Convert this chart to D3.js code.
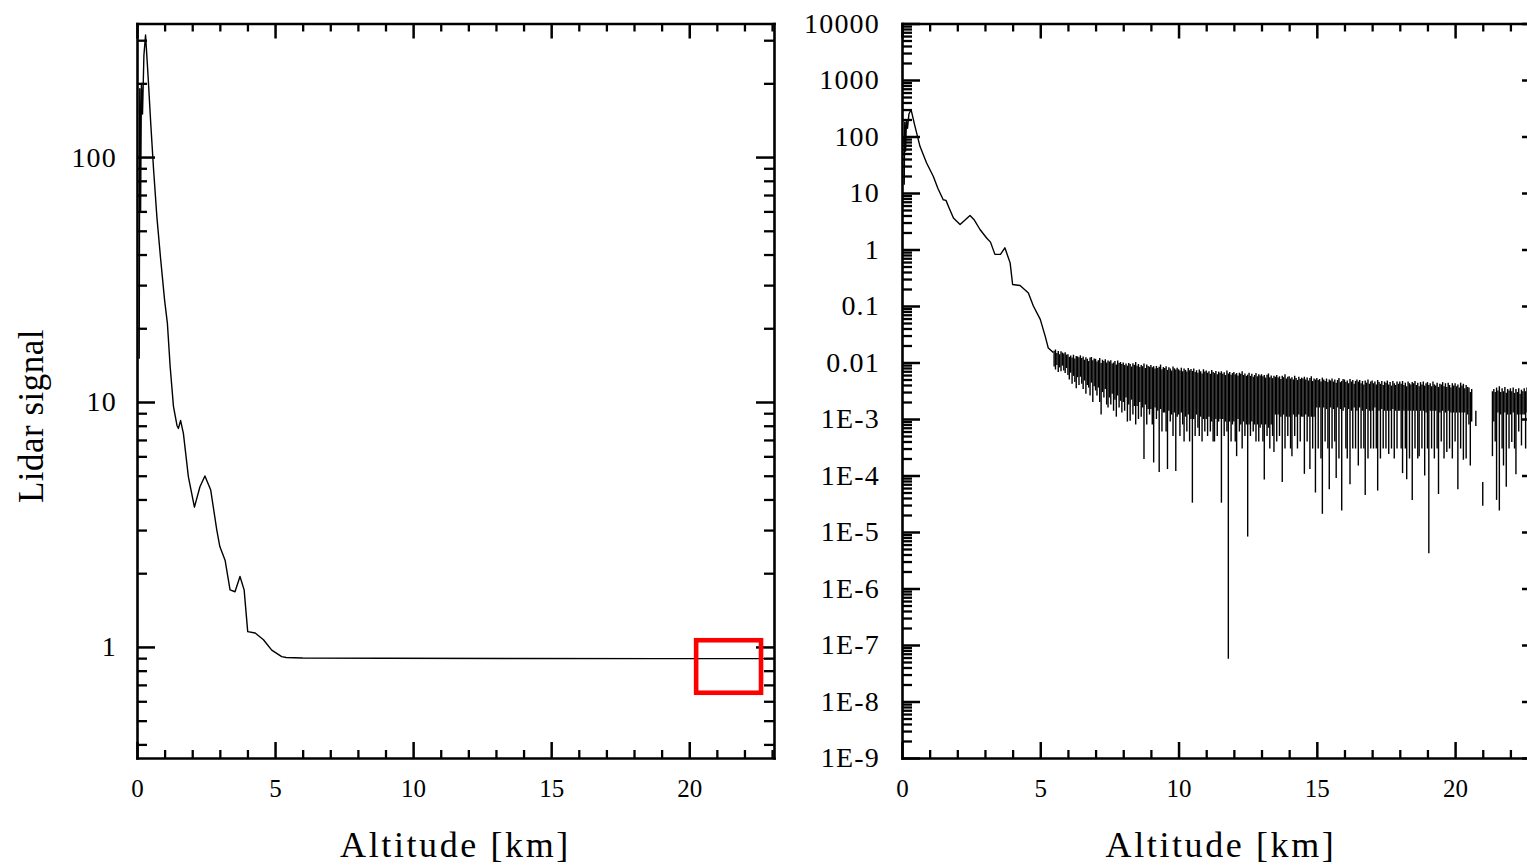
<!DOCTYPE html>
<html><head><meta charset="utf-8">
<script src="https://cdn.jsdelivr.net/npm/d3@7"></script>
<style>
html,body{margin:0;padding:0;background:#fff;overflow:hidden}
text{font-family:"Liberation Serif","Times New Roman",serif;fill:#000}
</style></head><body>
<svg id="chart" width="1527" height="865"></svg>
<script>
// ---------- data ----------
const xTicks = [0, 5, 10, 15, 20];
const leftYTicks = [1, 10, 100];
const leftYLabels = ["1", "10", "100"];
const rightYTicks = [1e4, 1e3, 1e2, 1e1, 1, 1e-1, 1e-2, 1e-3, 1e-4, 1e-5, 1e-6, 1e-7, 1e-8, 1e-9];
const rightYLabels = ["10000", "1000", "100", "10", "1", "0.1", "0.01", "1E-3", "1E-4", "1E-5", "1E-6", "1E-7", "1E-8", "1E-9"];
const xTitle = "Altitude [km]";
const yTitle = "Lidar signal";

// raw lidar signal (left panel)
const rawAlt = [0.08,0.1,0.13,0.16,0.2,0.25,0.31,0.4,0.5,0.6,0.72,0.85,1.0,1.1,1.2,1.32,1.45,1.5,1.58,1.68,1.86,2.08,2.28,2.46,2.67,2.89,3.0,3.19,3.37,3.55,3.73,3.88,4.01,4.28,4.58,4.88,5.24,5.4,6,9,14,19,23];
const rawSignal = [15,190,60,200,150,260,315,215,136,89,57,39,26,21,14,9.6,8.0,7.8,8.4,7.45,4.96,3.72,4.51,4.99,4.37,3.0,2.57,2.26,1.71,1.68,1.94,1.71,1.155,1.14,1.07,0.97,0.913,0.905,0.901,0.899,0.897,0.896,0.896];

// background-corrected signal (right panel), near range
const corrAlt = [0.08,0.1,0.13,0.16,0.2,0.25,0.33,0.45,0.65,0.89,1.13,1.3,1.49,1.59,1.7,1.86,2.1,2.3,2.46,2.6,2.82,3.06,3.2,3.36,3.56,3.72,3.91,4.0,4.27,4.57,4.75,5.0,5.18,5.29,5.47];
const corrSignal = [14,180,55,190,140,250,297,165,67,34,19.8,12,7.6,7.4,5.5,3.6,2.76,3.4,4.0,3.4,2.26,1.6,1.35,0.82,0.82,1.07,0.58,0.24,0.23,0.17,0.1,0.058,0.029,0.018,0.015];

// background-corrected signal, far range: max / min of the noisy signal in bins of 0.05 km from 5.5 km
// (null = signal negative, nothing drawn)
const farStart = 5.5, farStep = 0.05;
const farHi = [
.0162,.0170,.0148,.0160,.0140,.0158,.0150,.0144,.0152,.0138,
.0140,.0126,.0133,.0122,.0137,.0118,.0130,.0128,.0124,.0134,
.0120,.0128,.0112,.0124,.0116,.0106,.0122,.0125,.0110,.0118,
.0116,.0104,.0110,.0120,.0098,.0112,.0106,.0114,.0100,.0108,
.0104,.0110,.0096,.0100,.0106,.0092,.0108,.0098,.0102,.0094,
.0100,.0090,.0096,.0088,.0098,.0094,.0085,.0097,.0091,.0102,
.0088,.0094,.0083,.0090,.0086,.0096,.0080,.0092,.0087,.0084,
.0090,.0082,.0086,.0078,.0087,.0080,.0084,.0092,.0076,.0083,
.0080,.0086,.0074,.0082,.0078,.0072,.0085,.0079,.0075,.0081,
.0076,.0072,.0081,.0070,.0078,.0074,.0069,.0080,.0073,.0077,
.0071,.0078,.0068,.0073,.0066,.0075,.0070,.0064,.0076,.0069,
.0072,.0066,.0070,.0063,.0074,.0068,.0065,.0071,.0062,.0069,
.0066,.0070,.0063,.0067,.0060,.0072,.0064,.0068,.0061,.0065,
.0068,.0062,.0065,.0059,.0066,.0063,.0070,.0060,.0064,.0058,
.0061,.0066,.0058,.0063,.0056,.0060,.0065,.0057,.0062,.0059,
.0062,.0057,.0060,.0054,.0061,.0064,.0055,.0059,.0053,.0058,
.0056,.0060,.0054,.0057,.0051,.0058,.0055,.0062,.0052,.0056,
.0057,.0052,.0055,.0050,.0058,.0053,.0049,.0056,.0051,.0054,
.0052,.0056,.0050,.0054,.0048,.0053,.0057,.0047,.0052,.0050,
.0053,.0049,.0051,.0046,.0054,.0050,.0047,.0052,.0045,.0050,
.0048,.0052,.0046,.0050,.0044,.0049,.0053,.0045,.0047,.0051,
.0050,.0045,.0048,.0043,.0051,.0046,.0049,.0042,.0047,.0050,
.0046,.0049,.0043,.0047,.0041,.0048,.0044,.0050,.0042,.0046,
.0048,.0043,.0046,.0041,.0049,.0045,.0042,.0047,.0040,.0046,
.0044,.0048,.0041,.0045,.0039,.0047,.0043,.0040,.0046,.0042,
.0046,.0042,.0047,.0040,.0044,.0038,.0046,.0043,.0041,.0045,
.0043,.0047,.0040,.0044,.0038,.0045,.0041,.0046,.0039,.0043,
.0045,.0040,.0043,.0038,.0046,.0041,.0039,.0044,.0037,.0042,
.0041,.0045,.0038,.0043,.0037,.0044,.0040,.0036,.0043,.0039,
.0043,.0038,.0041,.0036,.0044,.0039,.0042,.0035,.0040,.0037,
.0036,.0030,.0034,null,null,.0014,null,null,null,null,
.000077,null,null,null,null,null,null,.0031,.0034,.0030,
.0036,.0032,.0038,.0030,.0035,.0031,.0037,.0029,.0034,.0032,
.0035,.0031,.0036,.0029,.0034,.0030,.0035,.0028,.0033,.0031,
.0035,.0031,.0036,.0029,.0034,.0030,.0035,.0028,.0033,.0031,.0034
];
const farLo = [
.0085,.0075,.0090,.0068,.0082,.0070,.0088,.0072,.0065,.0080,
.0060,.0050,.0066,.0042,.0058,.0045,.0035,.0055,.0040,.0056,
.0042,.0034,.0048,.0028,.0040,.0036,.0026,.0044,.0020,.0038,
.0032,.0026,.0036,.0020,.0012,.0030,.0024,.0034,.0018,.0016,
.0024,.0018,.0028,.0014,.0022,.0011,.0026,.0016,.0021,.0013,
.0020,.0014,.0024,.0009,.0018,.00093,.0022,.0012,.0017,.0008,
.0017,.0010,.0020,.0011,.0016,.000195,.0018,.0008,.0015,.0012,
.0015,.0008,.00017,.0016,.0010,.0014,.000115,.0015,.0006,.0013,
.0013,.0006,.00013,.0014,.0009,.0012,.0005,.0013,.00012,.0011,
.0012,.0005,.0013,.0008,.0004,.0011,.0006,.0012,.0004,.0010,
.000033,.0010,.0005,.0012,.0007,.0005,.0011,.0004,.0010,.0006,
.0010,.0005,.0011,.0006,.0009,.0004,.0004,.0010,.0005,.0009,
.0010,.000033,.0010,.0005,.0009,.0006,.000000057,.0009,.0004,.0008,
.0009,.0004,.00022,.0010,.0006,.0008,.0003,.0009,.0005,.0008,
.0000083,.0008,.0005,.0009,.0006,.0008,.0004,.0008,.0004,.0007,
.0008,.0004,.000085,.0008,.0005,.0007,.0003,.0008,.0005,.00026,
.0012,.0004,.0012,.0005,.0011,.000077,.0012,.0003,.0011,.0005,
.0011,.0003,.00022,.0012,.0005,.0011,.0003,.0012,.0004,.0011,
.0011,.000107,.0012,.0004,.0011,.00013,.0011,.0003,.0011,.00005,
.0016,.0003,.0016,.0002,.000021,.0016,.0004,.0015,.0003,.000057,
.0016,.0003,.0015,.0004,.00009,.0016,.0002,.0015,.000024,.0014,
.0016,.0003,.0002,.0015,.00007,.0014,.0003,.0016,.0003,.0014,
.00015,.0016,.0003,.0014,.0003,.000045,.0015,.0002,.0014,.0003,
.0014,.0003,.0016,.0003,.000054,.0014,.0002,.0015,.0003,.0014,
.0003,.0014,.00024,.0014,.0003,.0015,.0002,.0014,.0003,.0014,
.0014,.0003,.00011,.0014,.0003,.000086,.0014,.0002,.0014,.000037,
.0014,.0003,.0014,.0002,.00022,.0014,.0003,.0014,.0001,.0013,
.0003,.0000042,.0014,.0003,.0014,.0002,.0014,.0003,.000047,.0013,
.0004,.0014,.0002,.0013,.00026,.0014,.0003,.0013,.0002,.0013,
.0004,.0013,.000057,.0013,.0003,.0013,.00019,.0013,.0002,.0012,
.0008,.00015,.0009,null,null,.00075,null,null,null,null,
.000029,null,null,null,null,null,null,.00022,.0009,.0004,
.000037,.0013,.000024,.0012,.0003,.00015,.0013,.000063,.0012,.0003,
.0012,.00039,.0013,.0003,.000105,.0012,.0006,.0012,.00034,.0012,
.0012,.0003,.0013,.0003,.0012,.0004,.0013,.0003,.0012,.0004,.0013
];

// red highlight box on the left panel (data coordinates)
const boxAlt = [20.25, 22.6];
const boxSignal = [0.65, 1.065];

// ---------- layout ----------
const svg = d3.select("#chart");
const xMax = 23.07;
const xL = d3.scaleLinear().domain([0, xMax]).range([137, 774]);
const yL = d3.scaleLog().domain([0.352, 351]).range([758, 23.5]);
const xR = d3.scaleLinear().domain([0, xMax]).range([902, 1540]);
const yR = d3.scaleLog().domain([1e-9, 1e4]).range([758, 23.5]);

function logMinor(dom) {
  const out = [];
  for (let e = Math.floor(Math.log10(dom[0])); e <= Math.ceil(Math.log10(dom[1])); e++)
    for (let m = 2; m <= 9; m++) { const v = m * Math.pow(10, e); if (v >= dom[0] && v <= dom[1]) out.push(v); }
  return out;
}
const xMinor = d3.range(1, 24).filter(d => d % 5 !== 0 && d <= xMax);

function styleAxis(g, w, keepDomain) {
  g.attr("font-family", null).attr("font-size", null);
  if (keepDomain) g.selectAll(".domain").attr("stroke", "#000").attr("stroke-width", 2.6).attr("stroke-linecap", "square");
  else g.selectAll(".domain").remove();
  g.selectAll(".tick line").attr("stroke", "#000").attr("stroke-width", w);
}

function panel(x, y, yTicks, yLabels, labelPad, id) {
  const [x0, x1] = x.range();
  const [y1, y0] = y.range();
  const yMinor = logMinor(y.domain());
  const g = svg.append("g");
  const bMaj = g.append("g").attr("transform", `translate(0,${y1})`)
    .call(d3.axisBottom(x).tickValues(xTicks).tickSizeInner(-16).tickSizeOuter(0).tickPadding(21).tickFormat(d3.format("d")));
  styleAxis(bMaj, 2.5, true);
  bMaj.selectAll("text").style("font-size", "25px");
  const bMin = g.append("g").attr("transform", `translate(0,${y1})`)
    .call(d3.axisBottom(x).tickValues(xMinor).tickSizeInner(-8).tickSizeOuter(0).tickFormat(""));
  styleAxis(bMin, 2.3, false);
  const tMaj = g.append("g").attr("transform", `translate(0,${y0})`)
    .call(d3.axisTop(x).tickValues(xTicks).tickSizeInner(-15).tickSizeOuter(0).tickFormat(""));
  styleAxis(tMaj, 2.5, true);
  const tMin = g.append("g").attr("transform", `translate(0,${y0})`)
    .call(d3.axisTop(x).tickValues(xMinor).tickSizeInner(-8).tickSizeOuter(0).tickFormat(""));
  styleAxis(tMin, 2.3, false);
  const lMaj = g.append("g").attr("transform", `translate(${x0},0)`)
    .call(d3.axisLeft(y).tickValues(yTicks).tickSizeInner(-18).tickSizeOuter(0).tickPadding(labelPad)
      .tickFormat(d => yLabels[yTicks.findIndex(t => Math.abs(t - d) <= t * 1e-9)]));
  styleAxis(lMaj, 2.5, true);
  lMaj.selectAll("text").style("font-size", "28px").style("letter-spacing", "1.2px");
  const lMin = g.append("g").attr("transform", `translate(${x0},0)`)
    .call(d3.axisLeft(y).tickValues(yMinor).tickSizeInner(-10).tickSizeOuter(0).tickFormat(""));
  styleAxis(lMin, 2.3, false);
  const rMaj = g.append("g").attr("transform", `translate(${x1},0)`)
    .call(d3.axisRight(y).tickValues(yTicks).tickSizeInner(-18).tickSizeOuter(0).tickFormat(""));
  styleAxis(rMaj, 2.5, true);
  const rMin = g.append("g").attr("transform", `translate(${x1},0)`)
    .call(d3.axisRight(y).tickValues(yMinor).tickSizeInner(-10).tickSizeOuter(0).tickFormat(""));
  styleAxis(rMin, 2.3, false);
  svg.append("clipPath").attr("id", id).append("rect")
    .attr("x", x0).attr("y", y0).attr("width", x1 - x0).attr("height", y1 - y0);
  svg.append("text").attr("x", (x0 + x1) / 2).attr("y", 857).attr("text-anchor", "middle")
    .style("font-size", "36px").style("letter-spacing", "2.6px").text(xTitle);
}

panel(xL, yL, leftYTicks, leftYLabels, 20, "clipL");
panel(xR, yR, rightYTicks, rightYLabels, 22, "clipR");

svg.append("text").attr("transform", "translate(43,416) rotate(-90)").attr("text-anchor", "middle")
  .style("font-size", "35px").style("letter-spacing", "0.5px").text(yTitle);

// ---------- lines ----------
const leftPts = rawAlt.map((a, i) => [a, rawSignal[i]]);
const nearPts = corrAlt.map((a, i) => [a, corrSignal[i]]);
const farBins = farHi.map((h, i) => ({ alt: farStart + i * farStep, hi: h, lo: farLo[i] }))
  .filter(d => d.hi != null && d.lo != null);

const lineL = d3.line().x(d => xL(d[0])).y(d => yL(d[1]));
const lineR = d3.line().x(d => xR(d[0])).y(d => yR(d[1]));

svg.append("path").datum(leftPts).attr("clip-path", "url(#clipL)")
  .attr("fill", "none").attr("stroke", "#000").attr("stroke-width", 1.4).attr("stroke-linejoin", "round")
  .attr("d", lineL);
svg.append("path").datum(nearPts).attr("clip-path", "url(#clipR)")
  .attr("fill", "none").attr("stroke", "#000").attr("stroke-width", 1.4).attr("stroke-linejoin", "round")
  .attr("d", lineR);
svg.append("g").attr("clip-path", "url(#clipR)")
  .selectAll("line").data(farBins).join("line")
  .attr("x1", d => xR(d.alt)).attr("x2", d => xR(d.alt))
  .attr("y1", d => yR(d.hi)).attr("y2", d => yR(d.lo))
  .attr("stroke", "#000").attr("stroke-width", 1.4);

// red highlight box
svg.append("rect")
  .attr("x", xL(boxAlt[0])).attr("y", yL(boxSignal[1]))
  .attr("width", xL(boxAlt[1]) - xL(boxAlt[0])).attr("height", yL(boxSignal[0]) - yL(boxSignal[1]))
  .attr("fill", "none").attr("stroke", "#ff0000").attr("stroke-width", 4.6);
</script>
</body></html>
